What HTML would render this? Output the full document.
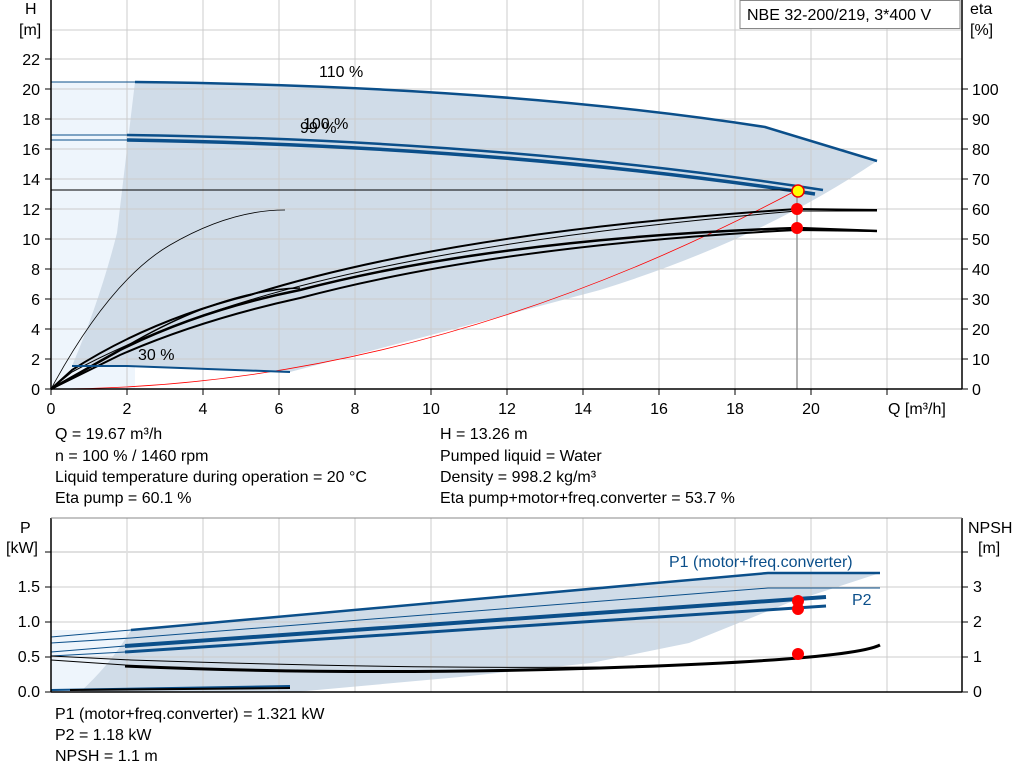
<!DOCTYPE html>
<html><head><meta charset="utf-8"><style>
body{margin:0;background:#fff;}
svg{display:block;font-family:"Liberation Sans",Arial,sans-serif;}
</style></head><body>
<svg width="1024" height="781" viewBox="0 0 1024 781" xmlns="http://www.w3.org/2000/svg">
<rect x="51" y="0" width="911" height="389" fill="#fff"/>
<polygon points="51,82 135,82 135,389 51,389" fill="#eef5fc"/>
<path d="M135,82 Q500,86 765,127 L877,161 Q760,240 600,290 L450,330 L290,372 L127,366 L72,366 Q100,300 117,233 Q128,140 135,82 Z" fill="#d0dce8"/>
<g stroke="#ccc" stroke-width="1">
<line x1="127" y1="0" x2="127" y2="389"/><line x1="203" y1="0" x2="203" y2="389"/><line x1="279" y1="0" x2="279" y2="389"/><line x1="355" y1="0" x2="355" y2="389"/><line x1="431" y1="0" x2="431" y2="389"/><line x1="507" y1="0" x2="507" y2="389"/><line x1="583" y1="0" x2="583" y2="389"/><line x1="659" y1="0" x2="659" y2="389"/><line x1="735" y1="0" x2="735" y2="389"/><line x1="811" y1="0" x2="811" y2="389"/><line x1="887" y1="0" x2="887" y2="389"/>
<line x1="51" y1="359" x2="962" y2="359"/><line x1="51" y1="329" x2="962" y2="329"/><line x1="51" y1="299" x2="962" y2="299"/><line x1="51" y1="269" x2="962" y2="269"/><line x1="51" y1="239" x2="962" y2="239"/><line x1="51" y1="209" x2="962" y2="209"/><line x1="51" y1="179" x2="962" y2="179"/><line x1="51" y1="149" x2="962" y2="149"/><line x1="51" y1="119" x2="962" y2="119"/><line x1="51" y1="89" x2="962" y2="89"/><line x1="51" y1="59" x2="962" y2="59"/><line x1="51" y1="30" x2="962" y2="30"/>
</g>
<path d="M51,389 Q424,389 797,190" fill="none" stroke="#f00" stroke-width="0.8"/>
<g fill="none" stroke="#000">
<path d="M51,389 Q110,280 170,245 Q230,210 285,210" stroke-width="0.8"/>
<path d="M51,389 L72,370 Q150,320 250,295 Q450,232 797,209 L877,210" stroke-width="2"/>
<path d="M51,389 L72,372 Q150,330 250,300 Q450,240 797,211 L877,211" stroke-width="1"/>
<path d="M51,389 L120,350 Q200,310 300,290 Q500,238 797,228 L877,231" stroke-width="2.5"/>
<path d="M51,389 L120,355 Q200,320 300,298 Q500,245 797,230 L877,231" stroke-width="2"/>
<path d="M120,350 Q220,290 300,288" stroke-width="1.5"/>
</g>
<g fill="none" stroke="#0b4f8a">
<path d="M51,82 L135,82" stroke-width="1"/>
<path d="M135,82 Q500,86 765,127 L877,161" stroke-width="2.5"/>
<path d="M51,135 L127,135" stroke-width="1"/>
<path d="M127,135 Q500,140 823,190" stroke-width="2.5"/>
<path d="M51,140 L127,140" stroke-width="1"/>
<path d="M127,140 Q500,146 815,194" stroke-width="3.5"/>
<path d="M72,366 L127,366 L290,372" stroke-width="2"/>
</g>
<line x1="51" y1="190" x2="797" y2="190" stroke="#000" stroke-width="1"/>
<line x1="797" y1="190" x2="797" y2="389" stroke="#999" stroke-width="1.5"/>
<circle cx="797" cy="209" r="6" fill="#f00"/>
<circle cx="797" cy="228" r="6" fill="#f00"/>
<circle cx="798" cy="191" r="6" fill="#ff0" stroke="#e00" stroke-width="1.5"/>
<g stroke="#000" stroke-width="1.5">
<line x1="51" y1="0" x2="51" y2="389"/><line x1="51" y1="389" x2="962" y2="389"/><line x1="962" y1="0" x2="962" y2="389"/>
</g>
<g stroke="#000" stroke-width="1">
<line x1="45" y1="389" x2="51" y2="389"/><line x1="45" y1="359" x2="51" y2="359"/><line x1="45" y1="329" x2="51" y2="329"/><line x1="45" y1="299" x2="51" y2="299"/><line x1="45" y1="269" x2="51" y2="269"/><line x1="45" y1="239" x2="51" y2="239"/><line x1="45" y1="209" x2="51" y2="209"/><line x1="45" y1="179" x2="51" y2="179"/><line x1="45" y1="149" x2="51" y2="149"/><line x1="45" y1="119" x2="51" y2="119"/><line x1="45" y1="89" x2="51" y2="89"/><line x1="45" y1="59" x2="51" y2="59"/>
<line x1="962" y1="389" x2="968" y2="389"/><line x1="962" y1="359" x2="968" y2="359"/><line x1="962" y1="329" x2="968" y2="329"/><line x1="962" y1="299" x2="968" y2="299"/><line x1="962" y1="269" x2="968" y2="269"/><line x1="962" y1="239" x2="968" y2="239"/><line x1="962" y1="209" x2="968" y2="209"/><line x1="962" y1="179" x2="968" y2="179"/><line x1="962" y1="149" x2="968" y2="149"/><line x1="962" y1="119" x2="968" y2="119"/><line x1="962" y1="89" x2="968" y2="89"/>
<line x1="51" y1="389" x2="51" y2="395"/><line x1="127" y1="389" x2="127" y2="395"/><line x1="203" y1="389" x2="203" y2="395"/><line x1="279" y1="389" x2="279" y2="395"/><line x1="355" y1="389" x2="355" y2="395"/><line x1="431" y1="389" x2="431" y2="395"/><line x1="507" y1="389" x2="507" y2="395"/><line x1="583" y1="389" x2="583" y2="395"/><line x1="659" y1="389" x2="659" y2="395"/><line x1="735" y1="389" x2="735" y2="395"/><line x1="811" y1="389" x2="811" y2="395"/><line x1="887" y1="389" x2="887" y2="395"/>
</g>
<g font-size="16" fill="#000">
<g text-anchor="end">
<text x="40" y="395">0</text><text x="40" y="365">2</text><text x="40" y="335">4</text><text x="40" y="305">6</text><text x="40" y="275">8</text><text x="40" y="245">10</text><text x="40" y="215">12</text><text x="40" y="185">14</text><text x="40" y="155">16</text><text x="40" y="125">18</text><text x="40" y="95">20</text><text x="40" y="65">22</text>
</g>
<text x="25" y="14">H</text><text x="19" y="35">[m]</text>
<text x="970" y="14">eta</text><text x="970" y="35">[%]</text>
<g>
<text x="972" y="395">0</text><text x="972" y="365">10</text><text x="972" y="335">20</text><text x="972" y="305">30</text><text x="972" y="275">40</text><text x="972" y="245">50</text><text x="972" y="215">60</text><text x="972" y="185">70</text><text x="972" y="155">80</text><text x="972" y="125">90</text><text x="972" y="95">100</text>
</g>
<g text-anchor="middle">
<text x="51" y="414">0</text><text x="127" y="414">2</text><text x="203" y="414">4</text><text x="279" y="414">6</text><text x="355" y="414">8</text><text x="431" y="414">10</text><text x="507" y="414">12</text><text x="583" y="414">14</text><text x="659" y="414">16</text><text x="735" y="414">18</text><text x="811" y="414">20</text>
</g>
<text x="888" y="414">Q [m³/h]</text>
<text x="319" y="77">110 %</text>
<text x="303" y="129">100 %</text>
<text x="300" y="133">99 %</text>
<text x="138" y="360">30 %</text>
</g>
<rect x="740" y="0.5" width="220" height="28" fill="#fff" stroke="#888"/>
<text x="747" y="20" font-size="16">NBE 32-200/219, 3*400 V</text>
<g font-size="16" fill="#000">
<text x="55" y="439">Q = 19.67 m³/h</text>
<text x="55" y="461">n = 100 % / 1460 rpm</text>
<text x="55" y="482">Liquid temperature during operation = 20 °C</text>
<text x="55" y="503">Eta pump = 60.1 %</text>
<text x="440" y="439">H = 13.26 m</text>
<text x="440" y="461">Pumped liquid = Water</text>
<text x="440" y="482">Density = 998.2 kg/m³</text>
<text x="440" y="503">Eta pump+motor+freq.converter = 53.7 %</text>
</g>
<polygon points="51,630 131,630 131,692 51,692" fill="#eef5fc"/>
<path d="M131,630 L768,573 L880,573 L788,603 L689,643 L591,663 L460,677 L295,692 L80,692 Q110,665 131,630 Z" fill="#d0dce8"/>
<g stroke="#ccc" stroke-width="1">
<line x1="127" y1="518" x2="127" y2="692"/><line x1="203" y1="518" x2="203" y2="692"/><line x1="279" y1="518" x2="279" y2="692"/><line x1="355" y1="518" x2="355" y2="692"/><line x1="431" y1="518" x2="431" y2="692"/><line x1="507" y1="518" x2="507" y2="692"/><line x1="583" y1="518" x2="583" y2="692"/><line x1="659" y1="518" x2="659" y2="692"/><line x1="735" y1="518" x2="735" y2="692"/><line x1="811" y1="518" x2="811" y2="692"/><line x1="887" y1="518" x2="887" y2="692"/>
<line x1="51" y1="657" x2="962" y2="657"/><line x1="51" y1="622" x2="962" y2="622"/><line x1="51" y1="587" x2="962" y2="587"/>
<line x1="51" y1="552" x2="962" y2="552" stroke="#e0e0e0" stroke-width="2"/>
</g>
<g fill="none" stroke="#0b4f8a">
<path d="M51,637 L131,630" stroke-width="1"/>
<path d="M131,630 L768,573 L880,573" stroke-width="2.5"/>
<path d="M51,643 L131,638 L768,588 L880,588" stroke-width="1"/>
<path d="M51,652 L125,646" stroke-width="1"/>
<path d="M125,646 L826,597" stroke-width="4"/>
<path d="M51,656 L125,652" stroke-width="1"/>
<path d="M125,652 L826,606" stroke-width="3"/>
<path d="M51,690 L290,686" stroke-width="2"/>
</g>
<g fill="none" stroke="#000">
<path d="M51,660 L125,665" stroke-width="1"/>
<path d="M125,666 Q350,676 600,668 T880,645" stroke-width="3"/>
<path d="M51,656 L131,660 Q400,669 600,667" stroke-width="1"/>
<path d="M70,690 L290,688" stroke-width="2"/>
</g>
<circle cx="798" cy="601" r="6" fill="#f00"/>
<circle cx="798" cy="609" r="6" fill="#f00"/>
<circle cx="798" cy="654" r="6" fill="#f00"/>
<g stroke="#000" stroke-width="1.5">
<line x1="51" y1="518" x2="51" y2="692"/><line x1="51" y1="692" x2="962" y2="692"/><line x1="962" y1="518" x2="962" y2="692"/>
<line x1="51" y1="518" x2="962" y2="518" stroke="#888" stroke-width="1"/>
</g>
<g stroke="#000" stroke-width="1">
<line x1="45" y1="692" x2="51" y2="692"/><line x1="45" y1="657" x2="51" y2="657"/><line x1="45" y1="622" x2="51" y2="622"/><line x1="45" y1="587" x2="51" y2="587"/><line x1="45" y1="552" x2="51" y2="552"/>
<line x1="962" y1="692" x2="968" y2="692"/><line x1="962" y1="657" x2="968" y2="657"/><line x1="962" y1="622" x2="968" y2="622"/><line x1="962" y1="587" x2="968" y2="587"/><line x1="962" y1="552" x2="968" y2="552"/>
</g>
<g font-size="16" fill="#000">
<g text-anchor="end">
<text x="40" y="697">0.0</text><text x="40" y="662">0.5</text><text x="40" y="627">1.0</text><text x="40" y="592">1.5</text>
</g>
<text x="20" y="533">P</text><text x="6" y="553">[kW]</text>
<text x="968" y="533">NPSH</text><text x="978" y="553">[m]</text>
<text x="973" y="697">0</text><text x="973" y="662">1</text><text x="973" y="627">2</text><text x="973" y="592">3</text>
<text x="669" y="567" fill="#0b4f8a">P1 (motor+freq.converter)</text>
<text x="852" y="605" fill="#0b4f8a">P2</text>
<text x="55" y="719">P1 (motor+freq.converter) = 1.321 kW</text>
<text x="55" y="740">P2 = 1.18 kW</text>
<text x="55" y="761">NPSH = 1.1 m</text>
</g>
</svg>
</body></html>
